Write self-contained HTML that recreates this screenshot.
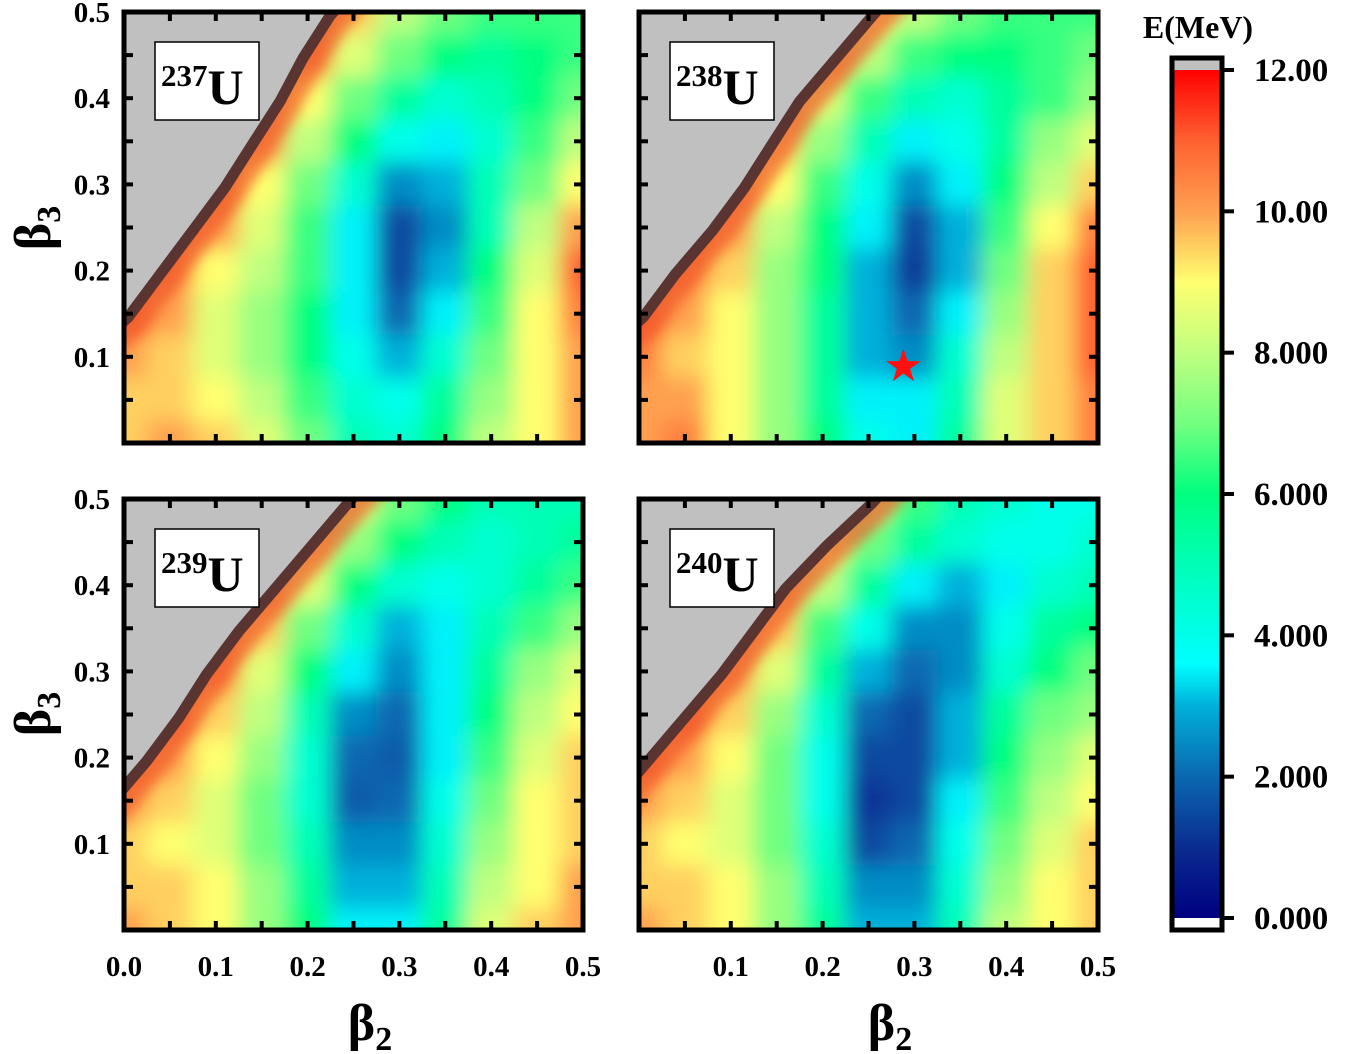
<!DOCTYPE html>
<html><head><meta charset="utf-8">
<style>
html,body{margin:0;padding:0;background:#fff;}
svg{display:block;font-family:"Liberation Serif",serif;font-weight:bold;}
</style></head>
<body>
<svg id="chart" width="1349" height="1054" viewBox="0 0 1349 1054" xmlns="http://www.w3.org/2000/svg">
<defs>
<filter id="smooth" filterUnits="userSpaceOnUse" x="0" y="0" width="1349" height="1054">
<feGaussianBlur stdDeviation="11" edgeMode="duplicate"/>
</filter>
<filter id="soft" x="-20%" y="-20%" width="140%" height="140%">
<feGaussianBlur stdDeviation="6"/>
</filter>
<linearGradient id="cbgrad" x1="0" y1="1" x2="0" y2="0">
<stop offset="0" stop-color="#000080"/>
<stop offset="0.08" stop-color="#0a2a90"/>
<stop offset="0.167" stop-color="#0a68b0"/>
<stop offset="0.25" stop-color="#00b0da"/>
<stop offset="0.30" stop-color="#00ffff"/>
<stop offset="0.40" stop-color="#00ffc0"/>
<stop offset="0.5" stop-color="#00ff80"/>
<stop offset="0.58" stop-color="#70ff80"/>
<stop offset="0.667" stop-color="#c0ff80"/>
<stop offset="0.75" stop-color="#ffff70"/>
<stop offset="0.833" stop-color="#ffa050"/>
<stop offset="0.917" stop-color="#ff6030"/>
<stop offset="1" stop-color="#ff0000"/>
</linearGradient>
</defs>
<g id="panels"></g>
<g id="colorbar"></g>
<text x="370" y="1040" font-size="52" text-anchor="middle">β<tspan font-size="34" dy="10">2</tspan></text>
<text x="890" y="1040" font-size="52" text-anchor="middle">β<tspan font-size="34" dy="10">2</tspan></text>
<text transform="translate(50,228) rotate(-90)" font-size="52" text-anchor="middle">β<tspan font-size="34" dy="10">3</tspan></text>
<text transform="translate(50,714) rotate(-90)" font-size="52" text-anchor="middle">β<tspan font-size="34" dy="10">3</tspan></text>
<text x="1198" y="38" font-size="32" text-anchor="middle">E(MeV)</text>
</svg>
<script>
const NS='http://www.w3.org/2000/svg';
const beta2=[0,0.05,0.1,0.15,0.2,0.25,0.3,0.35,0.4,0.45,0.5];
const beta3=[0.5,0.45,0.4,0.35,0.3,0.25,0.2,0.15,0.1,0.05,0.0];
const xTicks=[0.0,0.1,0.2,0.3,0.4,0.5];
const yTicks=[0.1,0.2,0.3,0.4,0.5];
const cbTicks=[0,2,4,6,8,10,12];
const cbLabels=['0.000','2.000','4.000','6.000','8.000','10.00','12.00'];
const nuclei=['237','238','239','240'];
// beta2 position of the unphysical (grey) region edge at each beta3 row
const edgeB3=[0.5,0.45,0.4,0.35,0.3,0.25,0.2,0.15];
const edge237=[0.22,0.19,0.165,0.135,0.105,0.07,0.035,0.0];
const edge238=[0.25,0.21,0.17,0.14,0.11,0.075,0.035,0.0];
const edge239=[0.24,0.2,0.16,0.12,0.085,0.055,0.02,-0.02];
const edge240=[0.25,0.2,0.155,0.12,0.085,0.045,0.005,-0.035];
const E237=[
[13,13,13,13,12,9.5,8,7,6.5,6.5,6.5],
[13,13,13,12.5,10.5,8.5,7,6,5.5,6,6.5],
[13,13,13,11,9,7,5.5,4.5,5,6,7],
[13,13,12,10,8,6,4,3.5,4.5,6.5,8],
[13,12.5,11,9,7,4.5,2.5,3,5,7,9],
[13,11.5,10,8.5,6.5,3.5,1.5,2.5,5,8,10],
[12.5,10.5,9,8,6.5,3.5,1.5,3,6,8.5,11],
[11,10,8.5,7.5,6,3.5,2,3.5,6.5,9,10.5],
[10,9.5,8.5,7.5,6,4,3,4.5,7,9,10],
[9.5,9.5,9,8,6.5,4.5,4,5.5,7.5,9,10],
[9.5,10,9.5,8.5,7,5,4.5,6,8,9,10]];
const E238=[
[13,13,13,13,11.5,9,8,7,6.5,6.5,6.5],
[13,13,13,12,10,8,6.5,6,6,6.5,7],
[13,13,12.5,10.5,8.5,6.5,5,4.5,5.5,6.5,7.5],
[13,13,11.5,9.5,7.5,5,3.5,4,5.5,7.5,8.5],
[13,12,10.5,9,6.5,4,2.5,3.5,6,8,9.5],
[13,11,10,8,6,3.5,1.5,3,6.5,9,10.5],
[12,10.5,9.5,7.5,6,3,1.3,3,7,9.5,11],
[11,10,9,7.5,5.5,3,2,3.5,7.5,9.5,11],
[10.5,9.5,9,7.5,5.5,3,2.5,4.5,8,9.5,11],
[10,10,9,7.5,5.5,3.5,3.5,5,8.5,9.5,10.5],
[10,10.5,9,7.5,6,4,3.5,5.5,8.5,9.5,10.5]];
const E239=[
[13,13,13,12.5,10.5,8.5,7,6,5,5,5],
[13,13,13,11.5,9.5,7.5,6,5,4.5,5,5.5],
[13,13,12,10.5,8.5,6,4.5,4,4.5,5.5,6.5],
[13,13,11,9.5,7,4.5,3,3.5,5,6.5,7.5],
[13,12,10.5,8.5,6,3.5,2.5,3.5,5.5,7.5,8.5],
[12.5,11,9.5,8,5,2.5,2,3.5,6,8,9],
[11,10,9,7.5,4.5,2,1.8,3.5,6.5,8.5,9.5],
[10,9.5,8.5,7,4.5,1.8,2,4,7,9,9.5],
[9.5,9,8.5,7,5,2.5,2.5,4.5,7.5,9,9.5],
[9.5,9.5,9,7.5,5.5,3,3,5,8,9,10],
[10,9.5,9,7.5,6,3.5,3.5,5.5,8.5,9.5,10]];
const E240=[
[13,13,13,12,10,8,6.5,5,4.5,4,4],
[13,13,13,11,9,7,5.5,4.5,4,4,4.5],
[13,13,12,10,8,5.5,3.5,3,3.5,4.5,5],
[13,12.5,11,9.5,6.5,4,2.5,2.5,4,5.5,6],
[13,12,10,8.5,5.5,3,2,2.5,4.5,6,7],
[12,11,9.5,7.5,4.5,2,1.5,3,5.5,7,7.5],
[11,10,9,7,4,1.5,1.5,3,6,7.5,8.5],
[10,9.5,8.5,7,4,1.2,1.5,3.5,6.5,8,9],
[9.5,9,8.5,7,4.5,1.5,2,4,7,8.5,9.5],
[9.5,9.5,9,7.5,5,2.5,2.5,4.5,7.5,9,9.5],
[10,9.5,9,7.5,5.5,3,3,5,8,9,9.5]];
const gsMin=[0.288,0.09];

const stops=[[0,[0,0,128]],[1,[10,42,144]],[2,[10,104,176]],[3,[0,176,218]],[3.6,[0,255,255]],[4.8,[0,255,192]],[6,[0,255,128]],[7,[112,255,128]],[8,[192,255,128]],[9,[255,255,112]],[10,[255,160,80]],[11,[255,96,48]],[12,[255,0,0]]];
function cmap(v){
  if(v>=12) return 'rgb(225,40,20)';
  for(let i=1;i<stops.length;i++){
    if(v<=stops[i][0]){
      const a=stops[i-1],b=stops[i],t=(v-a[0])/(b[0]-a[0]);
      const c=a[1].map((q,k)=>Math.round(q+(b[1][k]-q)*t));
      return `rgb(${c[0]},${c[1]},${c[2]})`;
    }
  }
  return 'rgb(0,0,128)';
}
const panelsPos=[[124,12],[639,12],[124,499],[639,499]];
const W=459,H=431;
const data=[E237,E238,E239,E240];
const edges=[edge237,edge238,edge239,edge240];
const root=document.getElementById('panels');
function mk(tag,attrs,parent){const e=document.createElementNS(NS,tag);for(const k in attrs)e.setAttribute(k,attrs[k]);parent.appendChild(e);return e;}

panelsPos.forEach((p,pi)=>{
  const x0=p[0],y0=p[1];
  const sx=b=>x0+b/0.5*W;
  const sy=b=>y0+H-b/0.5*H;
  const g=mk('g',{},root);
  
  
  const cp=mk('clipPath',{id:'clip'+pi},g);
  mk('rect',{x:x0,y:y0,width:W,height:H},cp);
  const clipG=mk('g',{'clip-path':'url(#clip'+pi+')'},g);
  const heat=mk('g',{filter:'url(#smooth)'},clipG);
  const dx=sx(0.05)-sx(0),dy=sy(0)-sy(0.05);
  data[pi].forEach((row,ri)=>{
    row.forEach((v,ci)=>{
      const r=mk('rect',{x:sx(beta2[ci])-dx/2-0.5,y:sy(beta3[ri])-dy/2-0.5,width:dx+1,height:dy+1,fill:cmap(v)},heat);
      
      
    });
  });
  let pts=edgeB3.map((b3,i)=>[sx(edges[pi][i]),sy(b3)]);
  const lastB3=edgeB3[edgeB3.length-1];
  pts=[[sx(edges[pi][0]+0.03),y0-30]].concat(pts).concat([[x0-40,sy(lastB3-0.04)],[x0-40,y0-30]]);
  const ptsStr=pts.map(q=>q[0].toFixed(1)+','+q[1].toFixed(1)).join(' ');
  const band=mk('polygon',{points:ptsStr,fill:'none',stroke:'#f05a28','stroke-width':54,'stroke-linejoin':'round','stroke-opacity':0.7,filter:'url(#soft)'},clipG);
  
  
  const dark=mk('polygon',{points:ptsStr,fill:'#c0c0c0',stroke:'#5a3430','stroke-width':22,'stroke-linejoin':'round'},clipG);
  
  
  const grey=mk('polygon',{points:ptsStr,fill:'#c0c0c0'},clipG);
  
  

  const fr=mk('rect',{x:x0,y:y0,width:W,height:H,fill:'none',stroke:'#000','stroke-width':5},g);
  
  
  for(let k=1;k<10;k++){
    const b=k*0.05;
    mk('line',{x1:sx(b),x2:sx(b),y1:y0+H,y2:y0+H-9,stroke:'#000','stroke-width':4},g);
    mk('line',{x1:sx(b),x2:sx(b),y1:y0,y2:y0+9,stroke:'#000','stroke-width':4},g);
    mk('line',{x1:x0,x2:x0+9,y1:sy(b),y2:sy(b),stroke:'#000','stroke-width':4},g);
    mk('line',{x1:x0+W,x2:x0+W-9,y1:sy(b),y2:sy(b),stroke:'#000','stroke-width':4},g);
  }
  const lb=mk('g',{},g);
  
  
  mk('rect',{x:x0+31,y:y0+30,width:104,height:78,fill:'#fff',stroke:'#000','stroke-width':1.5},lb);
  const t=mk('text',{x:x0+37,y:y0+92,'font-size':50},lb);
  const sup=mk('tspan',{'font-size':31,dy:-18},t);sup.textContent=nuclei[pi];
  const u=mk('tspan',{dy:18},t);u.textContent='U';
  if(pi===0||pi===2){
    yTicks.forEach(v=>{
      const tl=mk('text',{x:x0-14,y:sy(v)+10,'font-size':29,'text-anchor':'end'},g);
      tl.textContent=v.toFixed(1);
      
      
    });
  }
  if(pi>=2){
    xTicks.forEach(v=>{
      if(pi===3&&v===0)return;
      const tl=mk('text',{x:sx(v),y:y0+H+46,'font-size':29,'text-anchor':'middle'},g);
      tl.textContent=v.toFixed(1);
      
      
    });
  }
  if(pi===1){
    const st=mk('text',{x:sx(gsMin[0]),y:sy(gsMin[1])+14,'font-size':40,fill:'#ff1010','text-anchor':'middle'},g);
    st.textContent='★';
    
    
  }
});
const cb=document.getElementById('colorbar');
const cbx=1172,cbw=50,cTop=70,cBot=918;
const cy=v=>cBot-(v/12)*(cBot-cTop);
mk('rect',{x:cbx,y:58,width:cbw,height:12,fill:'#c0c0c0'},cb);
mk('rect',{x:cbx,y:cTop,width:cbw,height:cBot-cTop,fill:'url(#cbgrad)'},cb);
mk('rect',{x:cbx,y:cBot,width:cbw,height:12,fill:'#fff'},cb);
mk('rect',{x:cbx,y:58,width:cbw,height:872,fill:'none',stroke:'#000','stroke-width':5},cb);
cbTicks.forEach((v,i)=>{
  mk('line',{x1:cbx+cbw,x2:cbx+cbw+12,y1:cy(v),y2:cy(v),stroke:'#000','stroke-width':4},cb);
  const tl=mk('text',{x:1254,y:cy(v)+11,'font-size':33},cb);
  tl.textContent=cbLabels[i];
  
  
});
</script>
</body></html>
